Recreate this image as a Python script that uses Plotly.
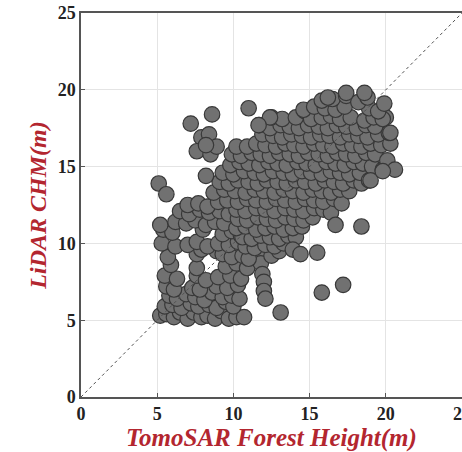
import plotly.graph_objects as go

# TomoSAR-derived forest height (x) against LiDAR canopy height model (y), in metres.
tomosar_height = [
    5.2, 5.6, 6.1, 6.5, 7.0, 7.4, 7.9, 8.3, 8.8, 9.2, 9.7, 10.2, 10.7,
    5.5, 6.0, 6.6, 7.2, 7.7, 8.4, 8.9, 9.5, 10.0,
    5.8, 6.3, 6.9, 7.5, 8.1, 8.6, 9.3, 9.9, 10.4,
    5.6, 6.1, 7.3, 7.8, 8.9, 9.6, 10.3,
    5.5, 6.3, 7.6, 8.2, 9.0, 9.8, 10.5,
    5.9, 7.6, 9.5, 10.2, 10.9,
    5.7, 7.6, 7.9, 8.9, 9.3, 9.9, 10.6,
    5.3, 6.2, 7.0, 7.6, 8.3, 9.0, 9.7, 10.3,
    5.4, 6.0, 8.0, 9.3, 9.9, 10.5,
    5.2, 6.2, 6.9, 7.5, 8.2, 8.8, 9.4,
    6.5, 7.1, 7.8, 8.4, 9.1, 9.7,
    7.0, 7.7, 8.3, 9.0,
    11.7, 11.8, 11.9, 12.0, 12.0, 12.1,
    11.0, 12.5, 13.0,
    10.8, 11.4, 12.1, 12.7, 13.3,
    10.6, 11.2, 11.8, 12.4, 13.0, 13.6, 14.1,
    10.2, 10.8, 11.5, 12.1, 12.7, 13.3, 13.9, 14.5,
    10.3, 10.9, 11.6, 12.2, 12.8, 13.4, 14.0, 14.6, 15.2,
    10.2, 10.8, 11.5, 12.1, 12.7, 13.4, 14.0, 14.6, 15.3, 15.9, 16.4,
    9.6, 10.3, 10.9, 11.5, 12.2, 12.8, 13.4, 14.1, 14.7, 15.3, 15.9, 16.6, 17.1,
    8.7, 9.4, 10.1, 10.8, 11.4, 12.0, 12.7, 13.3, 13.9, 14.6, 15.2, 15.8, 16.4, 17.0, 17.6,
    9.1, 9.7, 10.3, 11.0, 11.6, 12.2, 12.9, 13.5, 14.1, 14.7, 15.4, 16.0, 16.6, 17.2, 17.9, 18.4,
    8.2, 9.3, 10.0, 10.7, 11.4, 12.0, 12.6, 13.3, 13.9, 14.5, 15.1, 15.8, 16.4, 17.0, 17.6, 18.3, 18.9,
    9.8, 10.4, 11.0, 11.7, 12.3, 12.9, 13.5, 14.2, 14.8, 15.4, 16.1, 16.7, 17.3, 17.9, 18.5, 19.1, 19.8,
    9.9, 10.5, 11.2, 11.8, 12.4, 13.0, 13.7, 14.3, 14.9, 15.6, 16.2, 16.8, 17.4, 18.0, 18.7, 19.3, 20.1,
    10.2, 10.9, 11.5, 12.1, 12.8, 13.4, 14.0, 14.6, 15.3, 15.9, 16.5, 17.2, 17.8, 18.4, 19.0, 19.7, 20.3,
    11.9, 12.6, 13.2, 13.8, 14.5, 15.1, 15.7, 16.3, 17.0, 17.6, 18.2, 18.8, 19.5, 20.2,
    11.7, 12.4, 13.1, 13.7, 14.3, 14.9, 15.6, 16.2, 16.8, 17.4, 18.1, 18.7, 19.3, 20.0,
    12.5, 13.2, 14.1, 14.7, 15.1, 15.8, 16.4, 17.0, 17.7, 18.6, 19.2, 19.8,
    14.6, 15.3, 16.0, 16.7, 17.3, 18.9, 19.5,
    15.8, 16.5, 17.4, 18.2, 18.8, 19.9,
    16.2, 17.4, 18.6,
    5.1, 5.6, 7.2, 8.6, 7.9, 8.4, 7.6, 8.5, 8.9, 8.2, 11.0, 12.4, 11.65,
    16.7, 18.4, 13.9, 14.4, 15.5, 15.8, 17.2, 13.1, 20.6, 19.0, 19.8, 20.3,
]

lidar_chm = [
    5.3, 5.4, 5.2, 5.5, 5.1, 5.5, 5.2, 5.3, 5.1, 5.6, 5.1, 5.2, 5.2,
    5.9, 6.0, 5.8, 6.1, 5.9, 6.0, 5.8, 6.2, 5.9,
    6.6, 6.4, 6.7, 6.5, 6.3, 6.8, 6.5, 6.6, 6.4,
    7.2, 7.0, 7.1, 7.0, 7.2, 7.1, 7.3,
    7.9, 7.7, 7.9, 7.6, 7.8, 7.9, 7.7,
    8.6, 8.4, 8.5, 8.7, 8.4,
    9.1, 9.3, 9.6, 9.5, 9.3, 9.1, 9.2,
    10.0, 9.8, 9.9, 10.1, 9.8, 10.0, 9.9, 10.1,
    10.9, 10.7, 10.9, 10.6, 10.8, 10.5,
    11.2, 11.4, 11.3, 11.5, 11.2, 11.4, 11.3,
    12.1, 11.9, 12.2, 12.0, 12.1, 11.9,
    12.5, 12.6, 12.4, 12.7,
    9.3, 8.7, 8.0, 7.5, 6.9, 6.4,
    9.0, 9.2, 9.5,
    9.8, 9.7, 9.9, 9.8, 10.0,
    10.4, 10.3, 10.5, 10.4, 10.3, 10.5, 10.4,
    11.0, 11.1, 10.9, 11.0, 11.1, 10.9, 11.0, 11.1,
    11.6, 11.5, 11.7, 11.6, 11.5, 11.7, 11.6, 11.5, 11.7,
    12.2, 12.1, 12.3, 12.2, 12.1, 12.3, 12.2, 12.1, 12.3, 12.2, 12.0,
    12.8, 12.7, 12.9, 12.8, 12.7, 12.9, 12.8, 12.7, 12.9, 12.8, 12.7, 12.9, 12.6,
    13.3, 13.5, 13.4, 13.3, 13.5, 13.4, 13.3, 13.5, 13.4, 13.3, 13.5, 13.4, 13.3, 13.5, 13.4,
    14.0, 13.9, 14.1, 14.0, 13.9, 14.1, 14.0, 13.9, 14.1, 14.0, 13.9, 14.1, 14.0, 13.9, 14.1, 13.9,
    14.4, 14.6, 14.5, 14.7, 14.6, 14.5, 14.7, 14.6, 14.5, 14.7, 14.6, 14.5, 14.7, 14.6, 14.5, 14.6, 14.1,
    15.1, 15.3, 15.2, 15.1, 15.3, 15.2, 15.1, 15.3, 15.2, 15.1, 15.3, 15.2, 15.1, 15.3, 15.2, 15.0, 14.8,
    15.8, 15.7, 15.9, 15.8, 15.7, 15.9, 15.8, 15.7, 15.9, 15.8, 15.7, 15.9, 15.8, 15.7, 15.9, 15.8, 15.4,
    16.3, 16.3, 16.5, 16.4, 16.3, 16.5, 16.4, 16.3, 16.5, 16.4, 16.3, 16.5, 16.4, 16.3, 16.5, 16.4, 16.5,
    17.1, 17.0, 16.9, 17.1, 17.0, 16.9, 17.1, 17.0, 16.9, 17.1, 17.0, 16.9, 17.1, 17.2,
    17.7, 17.5, 17.7, 17.6, 17.5, 17.7, 17.6, 17.5, 17.7, 17.6, 17.5, 17.7, 17.6, 18.2,
    18.2, 18.1, 18.2, 18.6, 18.1, 18.2, 18.3, 18.1, 18.2, 18.0, 18.2, 18.1,
    18.7, 18.9, 18.8, 18.7, 18.9, 18.8, 18.6,
    19.3, 19.4, 19.6, 19.2, 19.5, 19.1,
    19.5, 19.8, 19.8,
    13.9, 13.2, 17.8, 18.4, 16.9, 17.1, 16.0, 15.8, 16.3, 16.4, 18.8, 18.2, 17.7,
    11.2, 11.1, 9.6, 9.3, 9.4, 6.8, 7.3, 5.5, 14.8, 14.1, 14.7, 17.2,
]

axis_range = [0, 25]
tick_values = [0, 5, 10, 15, 20, 25]

title_red = "#b3262f"
serif = "Liberation Serif, Times New Roman, serif"

fig = go.Figure()

fig.add_trace(go.Scatter(
    x=tomosar_height,
    y=lidar_chm,
    mode="markers",
    marker=dict(size=15.5, color="#717171",
                line=dict(color="#383838", width=1.2)),
    showlegend=False,
    hoverinfo="skip",
))

# 1:1 reference line
fig.add_trace(go.Scatter(
    x=axis_range,
    y=axis_range,
    mode="lines",
    line=dict(color="#505050", width=1, dash="dot"),
    showlegend=False,
    hoverinfo="skip",
))

axis_common = dict(
    range=axis_range,
    tickvals=tick_values,
    automargin=False,
    showgrid=True,
    gridcolor="#e4e4e4",
    gridwidth=1,
    zeroline=False,
    showline=True,
    linecolor="#555555",
    linewidth=1.5,
    mirror=True,
    ticks="inside",
    ticklen=4,
    tickcolor="#555555",
    ticklabeloverflow="allow",
    tickfont=dict(family=serif, size=18, color="#222222", weight="bold"),
)

fig.update_layout(
    width=462,
    height=452,
    margin=dict(l=81, r=0, t=13, b=55),
    paper_bgcolor="white",
    plot_bgcolor="white",
    xaxis=dict(
        **axis_common,
        title=dict(text="<b><i>TomoSAR Forest Height(m)</i></b>",
                   font=dict(family=serif, size=25, color=title_red),
                   standoff=3),
    ),
    yaxis=dict(
        **axis_common,
        title=dict(text="<b><i>LiDAR CHM(m)</i></b>",
                   font=dict(family=serif, size=24, color=title_red),
                   standoff=4),
    ),
)

fig.write_html("out.html")
